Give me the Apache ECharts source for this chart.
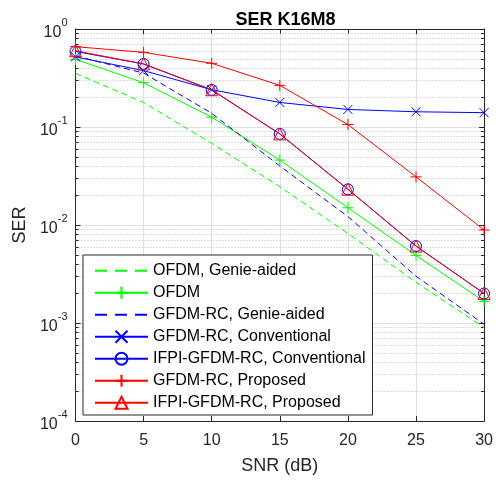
<!DOCTYPE html>
<html>
<head>
<meta charset="utf-8">
<script src="https://cdn.jsdelivr.net/npm/echarts@6/dist/echarts.min.js"></script>
<style>
  html, body { margin: 0; padding: 0; background: #ffffff; }
  #chart { width: 496px; height: 480px; }
</style>
</head>
<body>
<div id="chart"></div>
<script>
// SNR points (dB)
var snr = [0, 5, 10, 15, 20, 25, 30];

// Symbol error rate per scheme
var ofdmGenie   = [0.353, 0.178, 0.068, 0.0246, 0.0082, 0.0026, 0.00090];
var ofdm        = [0.49, 0.283, 0.126, 0.046, 0.0150, 0.0049, 0.00166];
var gfdmGenie   = [0.53, 0.355, 0.138, 0.040, 0.0122, 0.0030, 0.00097];
var gfdmConv    = [0.52, 0.376, 0.24, 0.178, 0.151, 0.143, 0.140];
var ifpiConv    = [0.59, 0.44, 0.239, 0.085, 0.0231, 0.0061, 0.0020];
var gfdmProp    = [0.66, 0.578, 0.447, 0.266, 0.106, 0.031, 0.0089];
var ifpiProp    = [0.60, 0.44, 0.24, 0.085, 0.0232, 0.0061, 0.0020];

var seriesNames = [
  'OFDM, Genie-aided',
  'OFDM',
  'GFDM-RC, Genie-aided',
  'GFDM-RC, Conventional',
  'IFPI-GFDM-RC, Conventional',
  'GFDM-RC, Proposed',
  'IFPI-GFDM-RC, Proposed'
];

// Axis ranges and ticks
var xTicks = [0, 5, 10, 15, 20, 25, 30];
var yMin = 1e-4, yMax = 1;

var GREEN = '#00ff00', BLUE = '#0000ff', RED = '#ff0000';
var AXIS = '#262626';
var FONT = 'Liberation Sans, Arial, Helvetica, sans-serif';

var PLUS = 'path://M0,5L10,5M5,0L5,10';
var CROSS = 'path://M0,0L10,10M10,0L0,10';
var TRI = 'path://M5,0L10,9L0,9Z';

// minor decade positions (2..9 x 10^e) for dotted grid and minor ticks
var minorVals = [];
for (var e = -4; e < 0; e++) {
  for (var k = 2; k <= 9; k++) minorVals.push([0, k * Math.pow(10, e)]);
}

function pairs(ys) {
  return snr.map(function (x, i) { return [x, ys[i]]; });
}

function mk(name, ys, color, opts) {
  return {
    name: name,
    type: 'line',
    data: pairs(ys),
    xAxisIndex: 0,
    yAxisIndex: 0,
    showAllSymbol: true,
    symbol: opts.symbol || 'none',
    symbolSize: opts.size || 10,
    lineStyle: { color: color, width: 1, type: opts.dash ? [6, 4] : 'solid' },
    itemStyle: { color: 'transparent', borderColor: color, borderWidth: 1 },
    emphasis: { disabled: true },
    animation: false,
    z: 3
  };
}

var series = [
  mk(seriesNames[0], ofdmGenie, GREEN, { dash: true }),
  mk(seriesNames[1], ofdm, GREEN, { symbol: PLUS, size: 11 }),
  mk(seriesNames[2], gfdmGenie, BLUE, { dash: true }),
  mk(seriesNames[3], gfdmConv, BLUE, { symbol: CROSS, size: 9 }),
  mk(seriesNames[4], ifpiConv, BLUE, { symbol: 'circle', size: 11 }),
  mk(seriesNames[5], gfdmProp, RED, { symbol: PLUS, size: 11 }),
  mk(seriesNames[6], ifpiProp, RED, { symbol: TRI, size: 12 }),
  {
    // dotted minor grid plus inward minor ticks on both y axes
    name: 'minor',
    type: 'custom',
    xAxisIndex: 0,
    yAxisIndex: 0,
    data: minorVals,
    encode: { x: 0, y: 1 },
    silent: true,
    animation: false,
    z: 1,
    renderItem: function (params, api) {
      var v = api.value(1);
      var a = api.coord([xTicks[0], v]);
      var b = api.coord([xTicks[xTicks.length - 1], v]);
      var y = Math.round(a[1]) + 0.5;
      return {
        type: 'group',
        children: [
          { type: 'line', shape: { x1: a[0], y1: y, x2: b[0], y2: y },
            style: { stroke: '#bdbdbd', lineWidth: 1, lineDash: [1, 2] } },
          { type: 'line', shape: { x1: a[0], y1: y, x2: a[0] + 3, y2: y },
            style: { stroke: AXIS, lineWidth: 1 } },
          { type: 'line', shape: { x1: b[0] - 3, y1: y, x2: b[0], y2: y },
            style: { stroke: AXIS, lineWidth: 1 } }
        ]
      };
    }
  }
];

// dashed entries carry a longer dash and no marker in the key
var legendData = seriesNames.map(function (n, i) {
  var d = { name: n };
  if (i === 0 || i === 2) {
    d.lineStyle = { type: [12, 8] };
    d.itemStyle = { color: 'transparent', borderColor: 'transparent', borderWidth: 0 };
  }
  return d;
});

var chart = echarts.init(document.getElementById('chart'), null, { renderer: 'canvas' });

chart.setOption({
  animation: false,
  backgroundColor: '#ffffff',
  textStyle: { fontFamily: FONT },
  title: {
    text: 'SER K16M8',
    left: 280.5,
    top: 6,
    textAlign: 'center',
    textStyle: { fontFamily: FONT, fontSize: 18, fontWeight: 'bold', color: '#000000' }
  },
  grid: { left: 75.5, right: 10.5, top: 29, bottom: 59, containLabel: false },
  legend: {
    data: legendData,
    orient: 'vertical',
    left: 83,
    top: 255,
    itemWidth: 53,
    itemHeight: 15,
    itemGap: 6,
    padding: [7.7, 7, 4.3, 11],
    backgroundColor: '#ffffff',
    borderColor: '#262626',
    borderWidth: 1,
    borderRadius: 0,
    selectedMode: false,
    textStyle: { fontFamily: FONT, fontSize: 16, color: '#000000', lineHeight: 15 },
    z: 10
  },
  xAxis: [{
    type: 'value',
    min: 0, max: 30, interval: 5,
    name: 'SNR (dB)',
    nameLocation: 'middle',
    nameGap: 36,
    nameTextStyle: { fontFamily: FONT, fontSize: 18, color: '#262626' },
    axisLine: { show: true, onZero: false, lineStyle: { color: AXIS, width: 1 } },
    axisTick: { show: true, inside: true, length: 5, lineStyle: { color: AXIS } },
    axisLabel: { fontFamily: FONT, fontSize: 16, color: '#262626', margin: 12 },
    splitLine: { show: true, lineStyle: { color: '#e0e0e0', width: 1 } }
  }, {
    type: 'value',
    position: 'top',
    min: 0, max: 30, interval: 5,
    axisLine: { show: true, onZero: false, lineStyle: { color: AXIS, width: 1 } },
    axisTick: { show: true, inside: true, length: 5, lineStyle: { color: AXIS } },
    axisLabel: { show: false },
    splitLine: { show: false }
  }],
  yAxis: [{
    type: 'log',
    logBase: 10,
    min: yMin, max: yMax,
    interval: 1,
    name: 'SER',
    nameLocation: 'middle',
    nameGap: 44,
    nameTextStyle: { fontFamily: FONT, fontSize: 18, color: '#262626' },
    axisLine: { show: true, onZero: false, lineStyle: { color: AXIS, width: 1 } },
    axisTick: { show: true, inside: true, length: 5, lineStyle: { color: AXIS } },
    axisLabel: {
      margin: 8,
      color: '#262626',
      formatter: function (v) {
        var ex = Math.round(Math.log10(v));
        return '{b|10}{s|' + ex + '}';
      },
      rich: {
        b: { fontFamily: FONT, fontSize: 16, color: '#262626', padding: [7, 0, 0, 0], verticalAlign: 'bottom' },
        s: { fontFamily: FONT, fontSize: 11, color: '#262626', verticalAlign: 'top' }
      }
    },
    splitLine: { show: true, lineStyle: { color: '#e0e0e0', width: 1 } }
  }, {
    type: 'log',
    logBase: 10,
    position: 'right',
    min: yMin, max: yMax,
    interval: 1,
    axisLine: { show: true, onZero: false, lineStyle: { color: AXIS, width: 1 } },
    axisTick: { show: true, inside: true, length: 5, lineStyle: { color: AXIS } },
    axisLabel: { show: false },
    splitLine: { show: false }
  }],
  series: series
});
</script>
</body>
</html>
